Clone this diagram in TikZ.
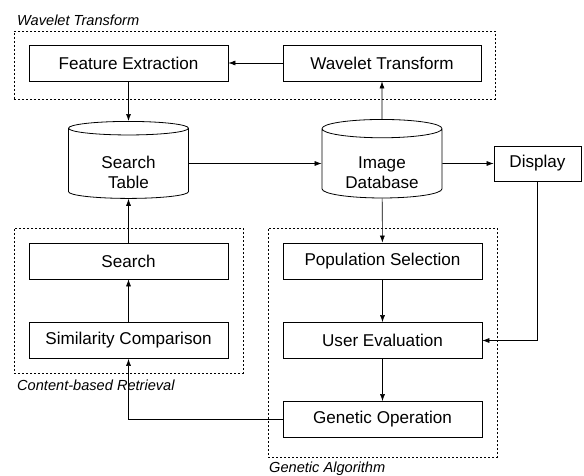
\documentclass[tikz,border=0pt]{standalone}
\usepackage{fontspec}
\setmainfont{Liberation Sans}
\usetikzlibrary{arrows.meta,shapes.geometric}

\begin{document}
\begin{tikzpicture}[x=1pt, y=-1pt]
\tikzstyle{box}=[rectangle, draw, line width=0.8pt, minimum width=199pt, minimum height=36pt, inner sep=0pt, font=\fontsize{17.1}{20.5}\selectfont]
\tikzstyle{db}=[cylinder, shape border rotate=90, draw, line width=0.8pt, aspect=0.25, minimum width=120pt, minimum height=77pt, inner sep=0pt, align=center, font=\fontsize{17.1}{20.5}\selectfont]
\tikzstyle{group}=[rectangle, draw, line width=0.8pt, dash pattern=on 2.2pt off 1.8pt, inner sep=0pt]
\tikzstyle{arrow}=[-{Latex[length=7pt,width=5pt]}, line width=0.6pt]
\tikzstyle{grouptitle}=[anchor=base west, inner sep=0pt, font=\fontsize{14.6}{17}\selectfont\itshape]

\useasboundingbox (0,0) rectangle (584,476);

% dotted frames round the three parts
\node (wtgroup) [group, minimum width=481pt, minimum height=68pt] at (254.5,65) {};
\node (cbrgroup) [group, minimum width=229pt, minimum height=145pt] at (128.5,300.5) {};
\node (gagroup) [group, minimum width=229pt, minimum height=229pt] at (382.5,342.5) {};
\node (wttitle) [grouptitle] at (17,26) {Wavelet Transform};
\node (cbrtitle) [grouptitle] at (17,390) {Content-based Retrieval};
\node (gatitle) [grouptitle] at (269,472) {Genetic Algorithm};

\node (fe) [box] at (128.5,63) {Feature Extraction};
\node (wt) [box, minimum width=198pt] at (382,63) {Wavelet Transform};
\node (st) [db] at (128.5,163.5) {\rule{0pt}{30pt}Search\\Table};
\node (imgdb) [db] at (382,163.5) {\rule{0pt}{30pt}Image\\Database};
\node (disp) [box, minimum width=87pt, minimum height=35pt] at (537.5,163.5) {Display};
\node (search) [box] at (128.5,261) {Search};
\node (sim) [box] at (128.5,340.5) {Similarity Comparison};
\node (popsel) [box] at (382.5,261) {Population Selection};
\node (usereval) [box] at (382.5,340.5) {User Evaluation};
\node (genop) [box] at (382.5,419.5) {Genetic Operation};

\draw [arrow] (wt) -- (fe);
\draw [arrow] (fe) -- (st);
\draw [arrow] (st) -- (imgdb);
\draw [arrow] (imgdb) -- (wt);
\draw [arrow] (imgdb) -- (disp);
\draw [arrow] (imgdb) -- (popsel);
\draw [arrow] (popsel) -- (usereval);
\draw [arrow] (usereval) -- (genop);
\draw [arrow] (sim) -- (search);
\draw [arrow] (search) -- (st);
\draw [arrow] (disp) |- (usereval);
\draw [arrow] (genop) -| (sim);

\end{tikzpicture}
\end{document}
